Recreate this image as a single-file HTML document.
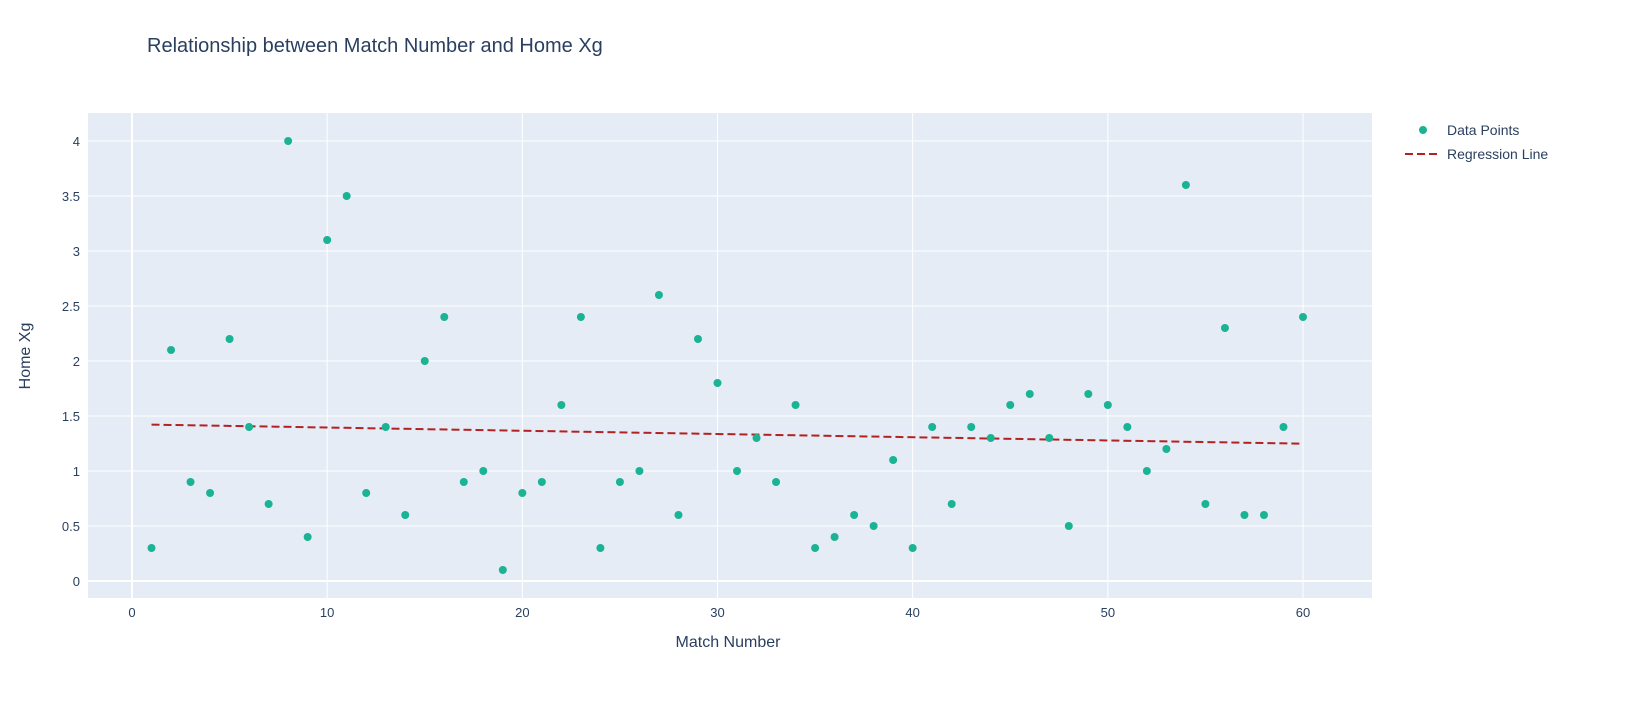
<!DOCTYPE html>
<html><head><meta charset="utf-8"><style>
body{margin:0;background:#fff;font-family:"Liberation Sans",sans-serif}
svg text{font-family:"Liberation Sans",sans-serif}
</style></head><body>
<svg id="chart" width="1629" height="703" xmlns="http://www.w3.org/2000/svg">
<rect x="0" y="0" width="1629" height="703" fill="#fff"/>
<text x="147" y="52" font-size="20" fill="#2a3f5f">Relationship between Match Number and Home Xg</text>
<rect x="88" y="113" width="1284" height="485" fill="#e5ecf6"/>
<g id="grid"></g><g id="marks"></g><g id="ticks"></g>
<text x="728" y="647" font-size="16" fill="#2a3f5f" text-anchor="middle">Match Number</text>
<text transform="translate(30,356) rotate(-90)" font-size="16" fill="#2a3f5f" text-anchor="middle">Home Xg</text>
<g>
<g><circle cx="1423" cy="130" r="4" fill="#1ab394"/><text x="1447" y="135" font-size="14" fill="#2a3f5f">Data Points</text></g>
<g><line x1="1405" y1="154" x2="1438" y2="154" stroke="#b22222" stroke-width="2" stroke-dasharray="8,4"/><text x="1447" y="159" font-size="14" fill="#2a3f5f">Regression Line</text></g>
</g>
</svg>
<script>
const matchNumbers=[];for(let i=1;i<=60;i++)matchNumbers.push(i);
const homeXg=[0.3,2.1,0.9,0.8,2.2,1.4,0.7,4.0,0.4,3.1,3.5,0.8,1.4,0.6,2.0,2.4,0.9,1.0,0.1,0.8,0.9,1.6,2.4,0.3,0.9,1.0,2.6,0.6,2.2,1.8,1.0,1.3,0.9,1.6,0.3,0.4,0.6,0.5,1.1,0.3,1.4,0.7,1.4,1.3,1.6,1.7,1.3,0.5,1.7,1.6,1.4,1.0,1.2,3.6,0.7,2.3,0.6,0.6,1.4,2.4];
const xTicks=[0,10,20,30,40,50,60];
const yTicks=[0,0.5,1,1.5,2,2.5,3,3.5,4];
const yTickLabels=["0","0.5","1","1.5","2","2.5","3","3.5","4"];
const NS="http://www.w3.org/2000/svg";
const X=v=>132+v*(1303-132)/60;
const Y=v=>581-v*110;
function mk(t,a,p){const e=document.createElementNS(NS,t);for(const k in a)e.setAttribute(k,a[k]);p.appendChild(e);return e;}
const grid=document.getElementById('grid'),marks=document.getElementById('marks'),ticks=document.getElementById('ticks');
yTicks.forEach((v,i)=>{
 const l=mk('line',{x1:88,x2:1372,y1:Y(v),y2:Y(v),stroke:'#fff','stroke-width':v===0?2:1},grid);
 
 
 const t=mk('text',{x:80,y:Y(v)+5,'font-size':13,fill:'#2a3f5f','text-anchor':'end'},ticks);t.textContent=yTickLabels[i];
 
 
});
xTicks.forEach(v=>{
 const l=mk('line',{x1:X(v),x2:X(v),y1:113,y2:598,stroke:'#fff','stroke-width':v===0?2:1},grid);
 
 
 const t=mk('text',{x:X(v),y:617,'font-size':13,fill:'#2a3f5f','text-anchor':'middle'},ticks);t.textContent=v;
 
 
});
const n=matchNumbers.length;let sx=0,sy=0,sxy=0,sxx=0;
for(let i=0;i<n;i++){sx+=matchNumbers[i];sy+=homeXg[i];sxy+=matchNumbers[i]*homeXg[i];sxx+=matchNumbers[i]*matchNumbers[i];}
const slope=(n*sxy-sx*sy)/(n*sxx-sx*sx),icpt=(sy-slope*sx)/n;
const x0=matchNumbers[0],x1=matchNumbers[n-1];
const reg=mk('line',{x1:X(x0),y1:Y(icpt+slope*x0),x2:X(x1),y2:Y(icpt+slope*x1),stroke:'#b22222','stroke-width':2,'stroke-dasharray':'8,4'},marks);


for(let i=0;i<n;i++){
 const c=mk('circle',{cx:X(matchNumbers[i]),cy:Y(homeXg[i]),r:4,fill:'#1ab394'},marks);
 
 
}
</script>
</body></html>
